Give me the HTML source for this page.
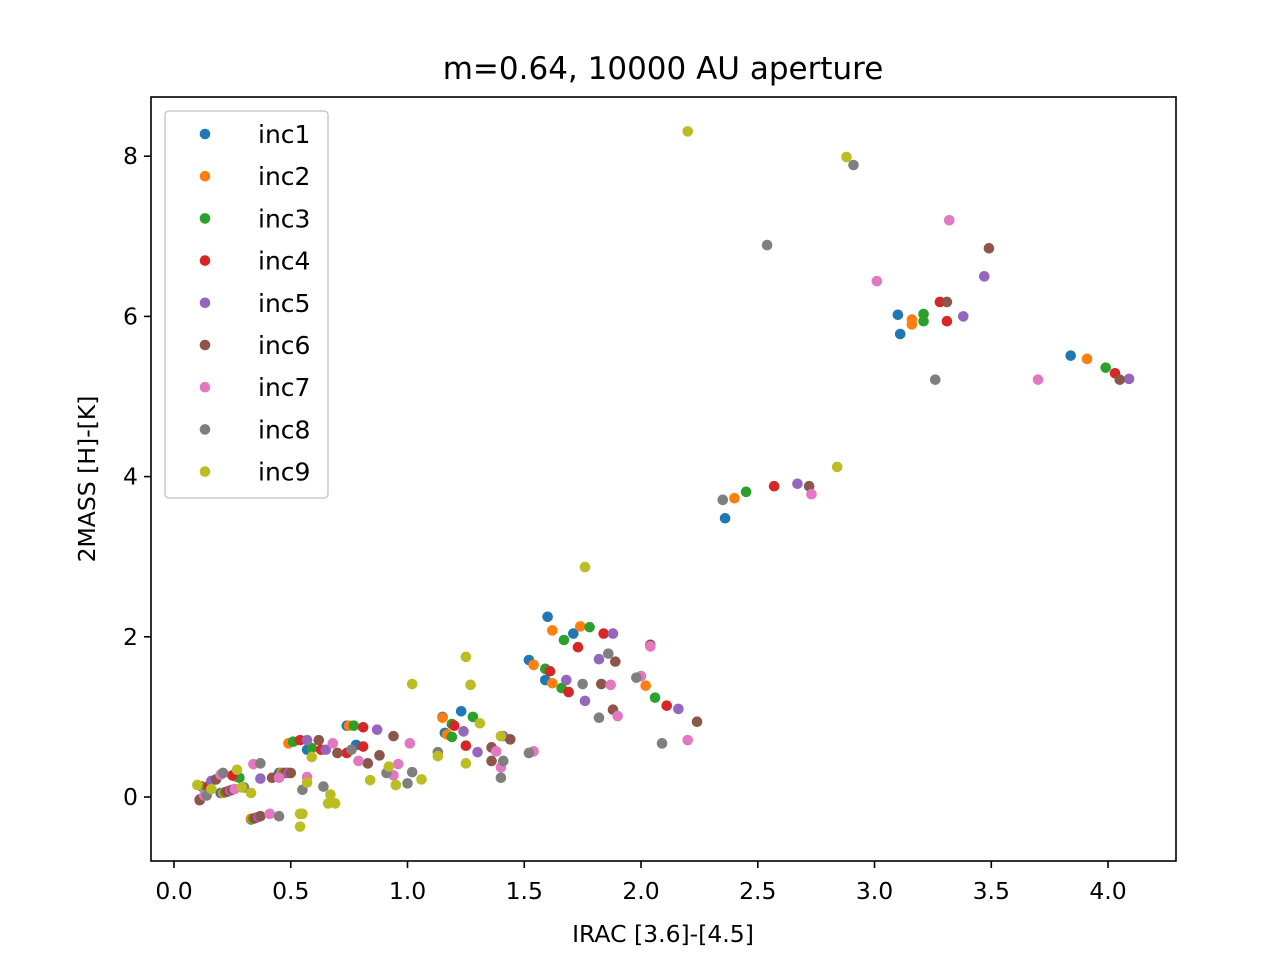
<!DOCTYPE html>
<html><head><meta charset="utf-8"><style>
body{margin:0;background:#fff}
svg{display:block;font-family:"DejaVu Sans","Liberation Sans",sans-serif}
</style></head><body>
<svg id="chart" width="1287" height="963" viewBox="0 0 1287 963"></svg>
<script>
const seriesNames=["inc1","inc2","inc3","inc4","inc5","inc6","inc7","inc8","inc9"];
const colors=["#1f77b4","#ff7f0e","#2ca02c","#d62728","#9467bd","#8c564b","#e377c2","#7f7f7f","#bcbd22"];
const xTicks=[0.0,0.5,1.0,1.5,2.0,2.5,3.0,3.5,4.0];
const xTickLabels=["0.0","0.5","1.0","1.5","2.0","2.5","3.0","3.5","4.0"];
const yTicks=[0,2,4,6,8];
const yTickLabels=["0","2","4","6","8"];
const inc1=[[0.12,0.13],[0.2,0.05],[0.33,-0.28],[0.26,0.26],[0.45,0.30],[0.57,0.59],[0.74,0.89],[0.78,0.65],[1.16,0.80],[1.15,1.00],[1.23,1.07],[1.52,1.71],[1.59,1.46],[1.60,2.25],[1.71,2.04],[2.36,3.48],[3.10,6.02],[3.11,5.78],[3.84,5.51]];
const inc2=[[0.13,0.12],[0.21,0.05],[0.33,-0.27],[0.27,0.25],[0.46,0.30],[0.49,0.67],[0.75,0.89],[1.15,0.99],[1.17,0.78],[1.54,1.65],[1.62,1.42],[1.62,2.08],[1.74,2.13],[2.02,1.39],[2.40,3.73],[3.16,5.96],[3.16,5.90],[3.91,5.47]];
const inc3=[[0.14,0.12],[0.22,0.06],[0.34,-0.27],[0.28,0.24],[0.47,0.30],[0.51,0.69],[0.59,0.61],[0.77,0.89],[1.19,0.91],[1.19,0.75],[1.28,1.00],[1.59,1.60],[1.66,1.36],[1.67,1.96],[1.78,2.12],[2.06,1.24],[2.45,3.81],[3.21,6.03],[3.21,5.94],[3.99,5.36]];
const inc4=[[0.15,0.14],[0.23,0.07],[0.35,-0.26],[0.25,0.27],[0.48,0.30],[0.54,0.71],[0.63,0.59],[0.81,0.87],[0.81,0.63],[0.74,0.55],[1.20,0.89],[1.25,0.64],[1.61,1.57],[1.69,1.31],[1.73,1.87],[1.84,2.04],[2.11,1.14],[2.57,3.88],[3.28,6.18],[3.31,5.94],[4.03,5.29]];
const inc5=[[0.11,-0.03],[0.16,0.20],[0.24,0.08],[0.36,-0.25],[0.37,0.23],[0.49,0.30],[0.57,0.71],[0.65,0.59],[0.87,0.84],[1.24,0.82],[1.30,0.56],[1.41,0.76],[1.68,1.46],[1.76,1.20],[1.82,1.72],[1.88,2.04],[2.16,1.10],[2.67,3.91],[3.38,6.00],[3.47,6.50],[4.09,5.22]];
const inc6=[[0.11,-0.04],[0.18,0.22],[0.25,0.09],[0.37,-0.24],[0.42,0.24],[0.50,0.30],[0.62,0.71],[0.70,0.55],[0.83,0.42],[0.88,0.52],[0.94,0.76],[1.36,0.62],[1.36,0.45],[1.44,0.72],[1.83,1.41],[1.88,1.09],[1.89,1.69],[2.04,1.90],[2.24,0.94],[2.72,3.88],[3.31,6.18],[3.49,6.85],[4.05,5.21]];
const inc7=[[0.13,0.02],[0.20,0.28],[0.26,0.10],[0.34,0.41],[0.41,-0.21],[0.45,0.24],[0.57,0.25],[0.68,0.67],[0.79,0.45],[0.94,0.27],[0.96,0.41],[1.01,0.67],[1.38,0.57],[1.40,0.37],[1.54,0.57],[1.87,1.40],[1.90,1.01],[2.00,1.51],[2.04,1.88],[2.20,0.71],[2.73,3.78],[3.01,6.44],[3.32,7.20],[3.70,5.21]];
const inc8=[[0.14,0.02],[0.21,0.30],[0.30,0.12],[0.37,0.42],[0.45,-0.24],[0.55,0.09],[0.64,0.13],[0.76,0.59],[0.91,0.30],[1.00,0.17],[1.02,0.31],[1.13,0.56],[1.40,0.24],[1.41,0.45],[1.52,0.55],[1.75,1.41],[1.82,0.99],[1.86,1.79],[1.98,1.49],[2.09,0.67],[2.35,3.71],[2.54,6.89],[2.91,7.89],[3.26,5.21]];
const inc9=[[0.10,0.15],[0.16,0.10],[0.27,0.34],[0.29,0.12],[0.33,0.05],[0.54,-0.21],[0.55,-0.21],[0.54,-0.37],[0.57,0.18],[0.59,0.50],[0.67,0.03],[0.66,-0.08],[0.69,-0.08],[0.84,0.21],[0.92,0.38],[0.95,0.15],[1.02,1.41],[1.06,0.22],[1.13,0.51],[1.25,0.42],[1.25,1.75],[1.27,1.40],[1.31,0.92],[1.40,0.76],[1.76,2.87],[2.20,8.31],[2.84,4.12],[2.88,7.99]];
const allSeries=[inc1,inc2,inc3,inc4,inc5,inc6,inc7,inc8,inc9];

const NS="http://www.w3.org/2000/svg";
const svg=document.getElementById('chart');
const L=151,R=1176,T=97,B=861;
const xMin=-0.0985,xMax=4.291,yMin=-0.799,yMax=8.739;
function sx(v){return L+(v-xMin)/(xMax-xMin)*(R-L);}
function sy(v){return B-(v-yMin)/(yMax-yMin)*(B-T);}
function mk(tag,attrs,parent){const e=document.createElementNS(NS,tag);for(const k in attrs)e.setAttribute(k,attrs[k]);(parent||svg).appendChild(e);return e;}

const title=mk('text',{x:663,y:79,'text-anchor':'middle','font-size':31,fill:'#000'});
title.textContent='m=0.64, 10000 AU aperture';



const pts=mk('g',{});


allSeries.forEach((s,i)=>{
  s.forEach(p=>{
    const c=mk('circle',{cx:sx(p[0]),cy:sy(p[1]),r:5.3,fill:colors[i]},pts);
    
    
  });
});

const frame=mk('rect',{x:L,y:T,width:R-L,height:B-T,fill:'none',stroke:'#000','stroke-width':1.6});



xTicks.forEach((v,i)=>{
  const x=sx(v);
  const t=mk('line',{x1:x,x2:x,y1:B,y2:B+7,stroke:'#000','stroke-width':1.6});
  
  
  const lb=mk('text',{x:x,y:B+38,'text-anchor':'middle','font-size':23.5,fill:'#000'});
  lb.textContent=xTickLabels[i];
  
  
});
yTicks.forEach((v,i)=>{
  const y=sy(v);
  const t=mk('line',{x1:L-7,x2:L,y1:y,y2:y,stroke:'#000','stroke-width':1.6});
  
  
  const lb=mk('text',{x:L-13,y:y+8,'text-anchor':'end','font-size':23.5,fill:'#000'});
  lb.textContent=yTickLabels[i];
  
  
});
const xt=mk('text',{x:663,y:942,'text-anchor':'middle','font-size':23.5,fill:'#000'});
xt.textContent='IRAC [3.6]-[4.5]';


const yt=mk('text',{x:0,y:0,'text-anchor':'middle','font-size':23.5,fill:'#000',transform:'translate(95,479) rotate(-90)'});
yt.textContent='2MASS [H]-[K]';



const lg=mk('g',{});


mk('rect',{x:165,y:111,width:163,height:387,rx:4,fill:'#fff','fill-opacity':0.8,stroke:'#ccc','stroke-width':1.6},lg);
seriesNames.forEach((n,i)=>{
  const y=134+i*42.2;
  const e=mk('g',{},lg);
  
  
  mk('circle',{cx:205,cy:y,r:5.3,fill:colors[i]},e);
  const t=mk('text',{x:258,y:y+9,'font-size':25,fill:'#000'},e);
  t.textContent=n;
});
</script>
</body></html>
